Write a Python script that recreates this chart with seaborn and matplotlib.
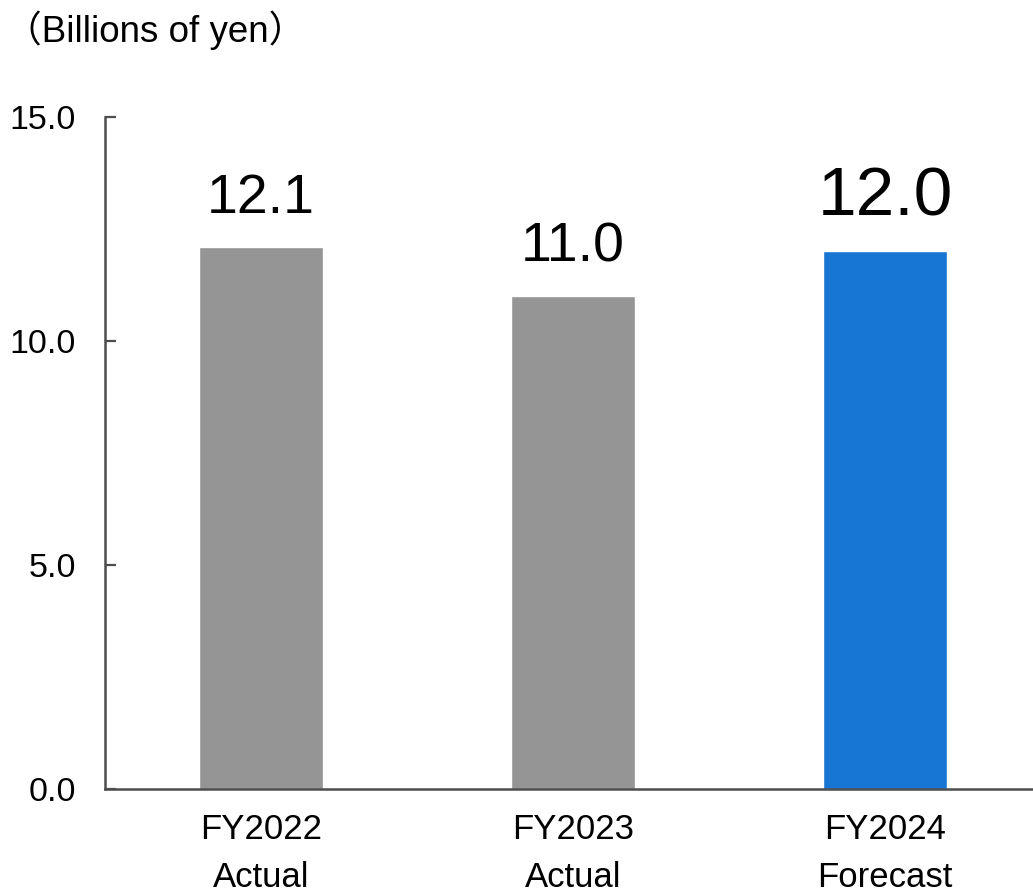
import matplotlib
matplotlib.use("Agg")
import matplotlib.pyplot as plt
import seaborn as sns
import pandas as pd

# Data
categories = ["FY2022\nActual", "FY2023\nActual", "FY2024\nForecast"]
values = [12.1, 11.0, 12.0]
bar_colors = ["#959595", "#959595", "#1776D3"]
y_ticks = [0.0, 5.0, 10.0, 15.0]
unit_label = "（Billions of yen）"

sns.set_theme(style="white")
plt.rcParams["font.family"] = ["Liberation Sans", "Noto Sans CJK JP", "DejaVu Sans"]

W, H = 1033, 896
fig = plt.figure(figsize=(W / 100, H / 100), dpi=100)
ax_left, ax_bottom, ax_top = 105, 789, 117
ax = fig.add_axes([ax_left / W, (H - ax_bottom) / H, 936 / W, (ax_bottom - ax_top) / H])

df = pd.DataFrame({"cat": categories, "val": values})
sns.barplot(data=df, x="cat", y="val", hue="cat", palette=bar_colors,
            width=0.4, legend=False, ax=ax, saturation=1)

ax.set_xlim(-0.5, 2.5)
ax.set_ylim(0, 15)
ax.set_yticks(y_ticks)
ax.set_yticklabels([f"{t:.1f}" for t in y_ticks], fontsize=24.5, color="black")
ax.set_xlabel("")
ax.set_ylabel("")
ax.tick_params(axis="x", length=0, pad=17, labelsize=25, labelcolor="black")
ax.tick_params(axis="y", direction="in", length=8, width=1.6, color="#4d4d4d",
               pad=21, left=True)
for lbl in ax.get_xticklabels():
    lbl.set_linespacing(1.6)

for side in ["top", "right"]:
    ax.spines[side].set_visible(False)
for side in ["left", "bottom"]:
    ax.spines[side].set_color("#4d4d4d")
    ax.spines[side].set_linewidth(1.8)

# Value labels above each bar; the forecast figure is emphasised
label_sizes = [40, 40, 50]
for i, (v, s) in enumerate(zip(values, label_sizes)):
    ax.annotate(f"{v:.1f}", xy=(i, v), xytext=(0, 16), textcoords="offset points",
                ha="center", va="bottom", fontsize=s, color="black")

fig.text(5 / W, 1 - 30 / H, unit_label, ha="left", va="center",
         fontsize=26.5, color="black")

fig.savefig("out.png", dpi=100, facecolor="white")
